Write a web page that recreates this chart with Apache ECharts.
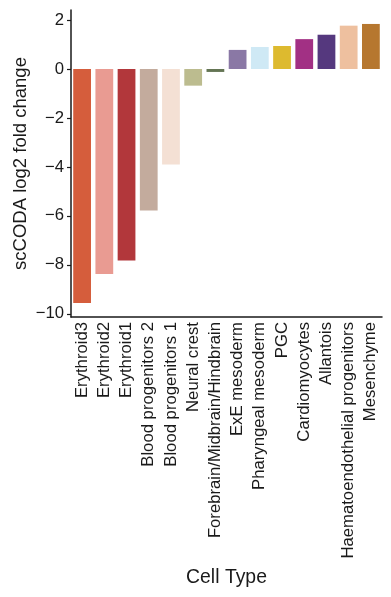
<!DOCTYPE html>
<html>
<head>
<meta charset="utf-8">
<script src="https://cdn.jsdelivr.net/npm/echarts@6/dist/echarts.min.js"></script>
<style>html,body{margin:0;padding:0;background:#fff;}#c{width:391px;height:597px;}</style>
</head>
<body>
<div id="c"></div>
<script>
const categories = ["Erythroid3","Erythroid2","Erythroid1","Blood progenitors 2","Blood progenitors 1","Neural crest","Forebrain/Midbrain/Hindbrain","ExE mesoderm","Pharyngeal mesoderm","PGC","Cardiomyocytes","Allantois","Haematoendothelial progenitors","Mesenchyme"];
const values = [-9.56,-8.37,-7.82,-5.78,-3.9,-0.68,-0.12,0.78,0.9,0.94,1.22,1.4,1.77,1.84];
const basePalette = ["#EF4E22","#F79083","#C72228","#C9A997","#F9DECF","#C3C388","#647A4F","#8870AD","#C9EBFB","#FACB12","#B51D8D","#532C8A","#FBBE92","#CC7818"];
const yTicks = [-10,-8,-6,-4,-2,0,2];

function desaturate(hex, prop){
  let r=parseInt(hex.slice(1,3),16)/255,g=parseInt(hex.slice(3,5),16)/255,b=parseInt(hex.slice(5,7),16)/255;
  const mx=Math.max(r,g,b),mn=Math.min(r,g,b),L=(mx+mn)/2,d=mx-mn;
  if(d===0) return hex;
  const S = L>0.5 ? d/(2-mx-mn) : d/(mx+mn);
  const S2=S*prop;
  const C=(1-Math.abs(2*L-1))*S2;
  const nmx=L+C/2,nmn=L-C/2;
  const f=v=>Math.round((nmn+(v-mn)/d*(nmx-nmn))*255).toString(16).padStart(2,'0');
  return '#'+f(r)+f(g)+f(b);
}
const colors = basePalette.map(c=>desaturate(c,0.75));

const chart = echarts.init(document.getElementById('c'), null, {renderer:'canvas'});
const font = 'Liberation Sans, Arial, sans-serif';
const ink = '#1a1a1a';
chart.setOption({
  animation:false,
  grid:{left:71,right:9,top:10,bottom:280,outerBoundsMode:'none',containLabel:false},
  xAxis:{
    type:'category',
    data:categories,
    name:'Cell Type',
    nameLocation:'middle',
    nameGap:251,
    nameTextStyle:{fontFamily:font,fontSize:19.4,color:ink},
    axisLine:{onZero:false,lineStyle:{color:ink,width:1.5}},
    axisTick:{alignWithLabel:true,length:4,lineStyle:{color:ink,width:1.2}},
    axisLabel:{rotate:90,interval:0,margin:5,fontFamily:font,fontSize:16.7,color:ink}
  },
  yAxis:{
    type:'value',
    min:-10.13,max:2.41,
    name:'scCODA log2 fold change',
    nameLocation:'middle',
    nameGap:41,
    nameMoveOverlap:false,
    nameTextStyle:{fontFamily:font,fontSize:18.5,color:ink},
    splitLine:{show:false},
    axisLine:{show:true,lineStyle:{color:ink,width:1.5}},
    axisTick:{show:true,length:4,customValues:yTicks,lineStyle:{color:ink,width:1.2}},
    axisLabel:{customValues:yTicks,margin:7,fontFamily:font,fontSize:16.7,color:ink,
      formatter:v=>String(v).replace('-','\u2212')}
  },
  series:[{
    type:'bar',
    data:values.map((v,i)=>({value:v,itemStyle:{color:colors[i]}})),
    barCategoryGap:'20%'
  }]
});
</script>
</body>
</html>
